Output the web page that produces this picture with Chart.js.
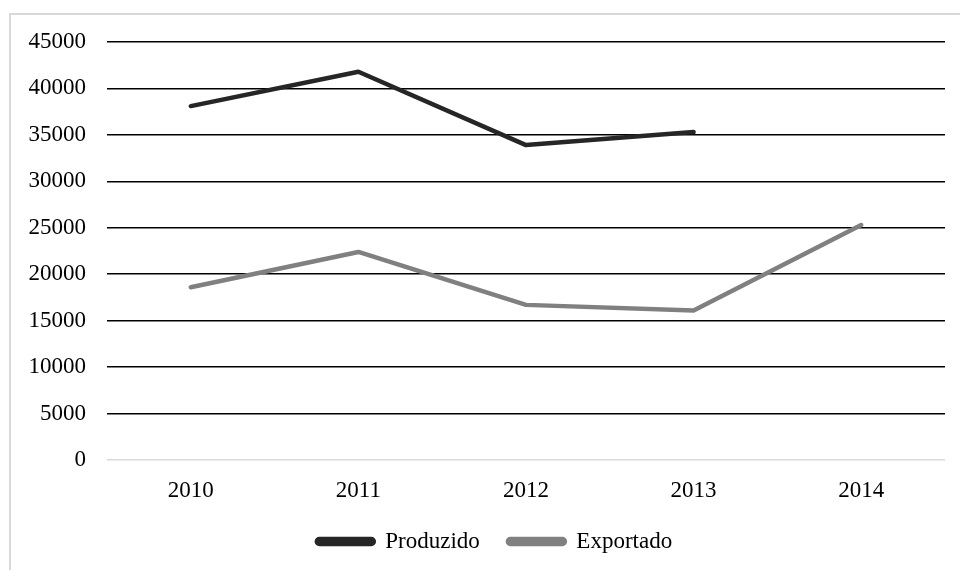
<!DOCTYPE html>
<html>
<head>
  <title>Produzido x Exportado</title>
  <style>
    body {
      margin: 0;
      background: #fff;
      font-family: "Liberation Serif", serif;
    }
    .frame {
      position: absolute;
      left: 9px;
      top: 13px;
      right: 0;
      bottom: 0;
      border-left: 2px solid #d9d9d9;
      border-top: 2px solid #d9d9d9;
    }
    .chart-container {
      position: absolute;
      left: 0;
      top: 0;
      width: 960px;
      height: 570px;
    }
  </style>
  <script src="https://cdn.jsdelivr.net/npm/chart.js"></script>
</head>
<body>
  <div class="frame"></div>
  <div class="chart-container">
    <canvas id="lineChart"></canvas>
  </div>
  <script>
    // Data
    const years = ['2010', '2011', '2012', '2013', '2014'];
    const produzido = [38100, 41800, 33900, 35300, null];
    const exportado = [18600, 22400, 16700, 16100, 25300];

    // legend sits a bit right of the canvas centre in the original
    const legendShift = {
      id: 'legendShift',
      afterLayout: function(chart) {
        chart.legend.left += 17;
        chart.legend.right += 17;
      }
    };

    const ctx = document.getElementById('lineChart').getContext('2d');
    new Chart(ctx, {
      type: 'line',
      data: {
        labels: years,
        datasets: [{
          label: 'Produzido',
          data: produzido,
          borderColor: '#262626',
          backgroundColor: '#262626',
          borderWidth: 4.5,
          pointRadius: 0,
          borderCapStyle: 'round',
          borderJoinStyle: 'round'
        }, {
          label: 'Exportado',
          data: exportado,
          borderColor: '#808080',
          backgroundColor: '#808080',
          borderWidth: 4.5,
          pointRadius: 0,
          borderCapStyle: 'round',
          borderJoinStyle: 'round'
        }]
      },
      options: {
        responsive: true,
        maintainAspectRatio: false,
        animation: false,
        layout: {
          padding: { left: 10, right: 15, top: 42, bottom: 7 }
        },
        scales: {
          x: {
            offset: true,
            afterFit: function(scale) { scale.height = 42; },
            grid: { display: false },
            border: { display: false },
            ticks: {
              color: '#000',
              padding: 11,
              font: { family: 'Liberation Serif', size: 23, lineHeight: 1 }
            }
          },
          y: {
            min: 0,
            max: 45000,
            afterFit: function(scale) { scale.width = 97; },
            border: { display: false },
            grid: {
              drawTicks: false,
              lineWidth: 1.6,
              color: function(c) { return c.tick && c.tick.value === 0 ? '#d9d9d9' : '#000'; }
            },
            ticks: {
              stepSize: 5000,
              color: '#000',
              padding: 21,
              font: { family: 'Liberation Serif', size: 23 },
              callback: function(v) { return String(v); }
            }
          }
        },
        plugins: {
          legend: {
            position: 'bottom',
            labels: {
              color: '#000',
              boxWidth: 57,
              boxHeight: 5,
              padding: 28,
              useBorderRadius: true,
              borderRadius: 2.5,
              font: { family: 'Liberation Serif', size: 23 }
            }
          },
          tooltip: { enabled: false }
        }
      },
      plugins: [legendShift]
    });
  </script>
</body>
</html>
